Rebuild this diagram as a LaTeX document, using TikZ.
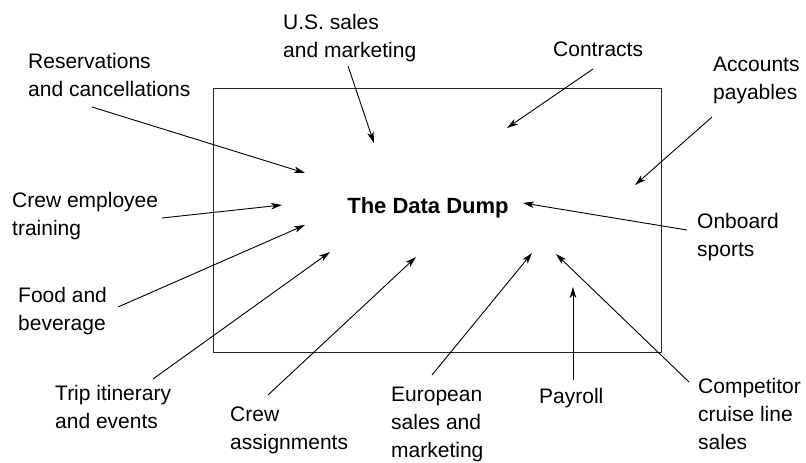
\documentclass[tikz,border=0pt]{standalone}
\usepackage{fontspec}
\setmainfont{Liberation Sans}
\usetikzlibrary{arrows.meta}

\tikzset{
  lbl/.style={anchor=north west,inner sep=0pt,align=left,font=\fontsize{21}{28}\selectfont},
  feed/.style={line width=0.9pt,-{Stealth[length=11pt,width=6.5pt,inset=3pt]}}
}

\begin{document}
\begin{tikzpicture}[x=1pt,y=-1pt]
    \useasboundingbox (0,0) rectangle (806,463);
    \draw[line width=1pt,black!85] (213,88) rectangle (661,352);
    \node[font=\fontsize{22}{26}\selectfont\bfseries] (dump) at (428,208) {The Data Dump};

    % labels
    \node[lbl] (res) at (28,53) {Reservations\\and cancellations};
    \node[lbl] (ussales) at (283,14) {U.S. sales\\and marketing};
    \node[lbl] (contracts) at (553,42) {Contracts};
    \node[lbl] (accounts) at (713,57) {Accounts\\payables};
    \node[lbl] (training) at (12,192) {Crew employee\\training};
    \node[lbl] (onboard) at (697,213) {Onboard\\sports};
    \node[lbl] (food) at (18,287) {Food and\\beverage};
    \node[lbl] (trip) at (55,385) {Trip itinerary\\and events};
    \node[lbl] (crew) at (230,407) {Crew\\assignments};
    \node[lbl] (eusales) at (391,387) {European\\sales and\\marketing};
    \node[lbl] (payroll) at (539,388) {Payroll};
    \node[lbl] (competitor) at (698,378) {Competitor\\cruise line\\sales};

    % arrow ends
    \coordinate (res-a) at (92,107);   \coordinate (res-b) at (305,173);
    \coordinate (us-a) at (348,66);    \coordinate (us-b) at (374,143);
    \coordinate (con-a) at (593,69);   \coordinate (con-b) at (507,128);
    \coordinate (acc-a) at (712,117);  \coordinate (acc-b) at (635,185);
    \coordinate (tra-a) at (162,218);  \coordinate (tra-b) at (282,205);
    \coordinate (onb-a) at (687,230);  \coordinate (onb-b) at (523,203);
    \coordinate (food-a) at (118,307); \coordinate (food-b) at (305,225);
    \coordinate (trip-a) at (153,379); \coordinate (trip-b) at (330,252);
    \coordinate (crew-a) at (268,395); \coordinate (crew-b) at (416,257);
    \coordinate (eu-a) at (432,375);   \coordinate (eu-b) at (532,253);
    \coordinate (pay-a) at (573,380);  \coordinate (pay-b) at (573,287);
    \coordinate (comp-a) at (689,382); \coordinate (comp-b) at (556,254);

    \draw[feed] (res-a) -- (res-b);
    \draw[feed] (us-a) -- (us-b);
    \draw[feed] (con-a) -- (con-b);
    \draw[feed] (acc-a) -- (acc-b);
    \draw[feed] (tra-a) -- (tra-b);
    \draw[feed] (onb-a) -- (onb-b);
    \draw[feed] (food-a) -- (food-b);
    \draw[feed] (trip-a) -- (trip-b);
    \draw[feed] (crew-a) -- (crew-b);
    \draw[feed] (eu-a) -- (eu-b);
    \draw[feed] (pay-a) -- (pay-b);
    \draw[feed] (comp-a) -- (comp-b);
\end{tikzpicture}
\end{document}
